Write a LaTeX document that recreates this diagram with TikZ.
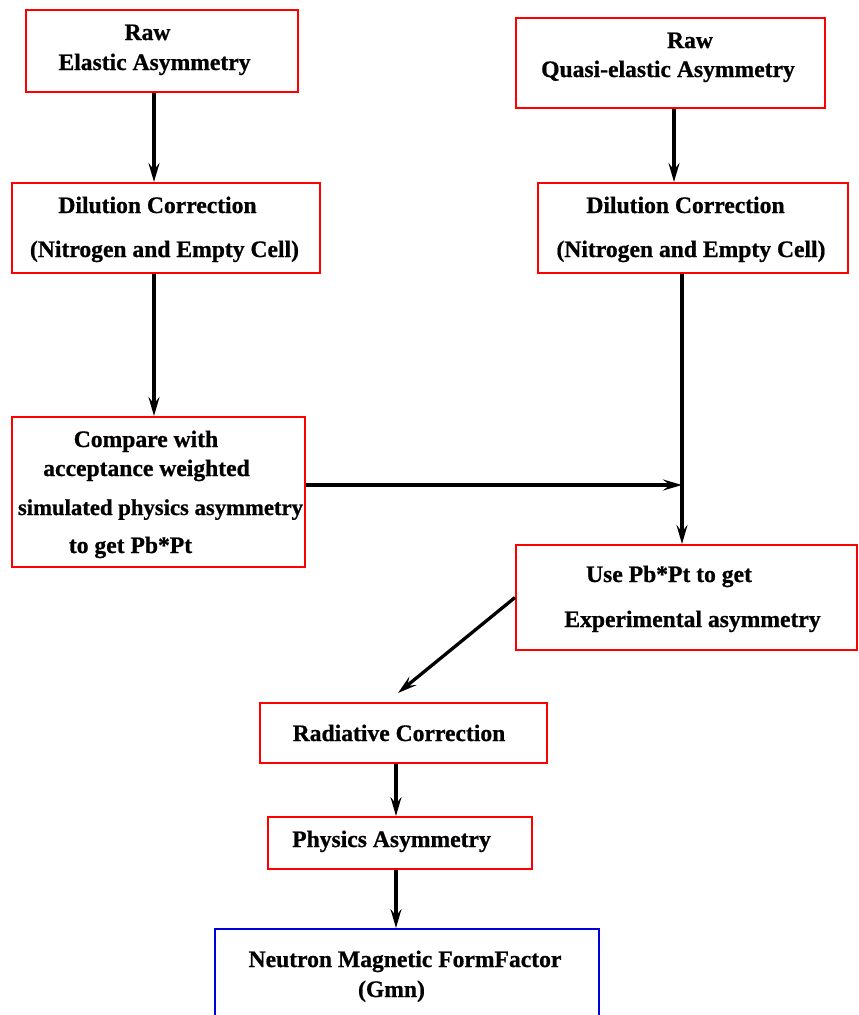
\documentclass[tikz,border=0pt]{standalone}
\usepackage{fontspec}
\setmainfont[BoldFeatures={FakeBold=0.8}]{Liberation Serif}
\usetikzlibrary{arrows.meta}
\tikzset{
  redbox/.style={draw=red, line width=2pt, inner sep=0pt},
  bluebox/.style={draw=blue!85!black, line width=2pt, inner sep=0pt},
  lbl/.style={anchor=base, inner sep=0pt, font=\fontsize{23.6}{27}\selectfont\bfseries},
  arr/.style={line width=3.3pt, -{Stealth[length=19pt,width=11pt,inset=7pt]}}
}
\begin{document}
\begin{tikzpicture}[x=1pt, y=-1pt]
\useasboundingbox (0,0) rectangle (859,1015);

% boxes
\node[redbox, minimum width=272pt, minimum height=82pt] (b1) at (162,51) {};
\node[redbox, minimum width=309pt, minimum height=90pt] (b2) at (670.5,62.5) {};
\node[redbox, minimum width=308pt, minimum height=90pt] (b3) at (165.5,228) {};
\node[redbox, minimum width=310pt, minimum height=90pt] (b4) at (693,228) {};
\node[redbox, minimum width=293pt, minimum height=150pt] (b5) at (158.5,492) {};
\node[redbox, minimum width=341pt, minimum height=105pt] (b6) at (686.5,597.5) {};
\node[redbox, minimum width=287pt, minimum height=60pt] (b7) at (403,733) {};
\node[redbox, minimum width=264pt, minimum height=52pt] (b8) at (400,843) {};
\node[bluebox, minimum width=384pt, minimum height=90pt] (b9) at (407,974) {};

% texts
\node[lbl] (t1a) at (147.5,40) {Raw};
\node[lbl] (t1b) at (154.5,70) {Elastic Asymmetry};
\node[lbl] (t2a) at (690,48) {Raw};
\node[lbl] (t2b) at (668,77) {Quasi-elastic Asymmetry};
\node[lbl] (t3a) at (157.5,213) {Dilution Correction};
\node[lbl] (t3b) at (164.5,257) {(Nitrogen and Empty Cell)};
\node[lbl] (t4a) at (685.5,213) {Dilution Correction};
\node[lbl] (t4b) at (691,257) {(Nitrogen and Empty Cell)};
\node[lbl] (t5a) at (146,447) {Compare with};
\node[lbl] (t5b) at (146.5,476) {acceptance weighted};
\node[lbl, font=\fontsize{22.7}{27}\selectfont\bfseries] (t5c) at (160.5,515) {simulated physics asymmetry};
\node[lbl] (t5d) at (130.5,553) {to get Pb*Pt};
\node[lbl] (t6a) at (669,582) {Use Pb*Pt to get};
\node[lbl] (t6b) at (692.5,627) {Experimental asymmetry};
\node[lbl] (t7) at (399,741) {Radiative Correction};
\node[lbl] (t8) at (391.5,847) {Physics Asymmetry};
\node[lbl] (t9a) at (405,967) {Neutron Magnetic FormFactor};
\node[lbl] (t9b) at (391.5,997) {(Gmn)};

% connectors
\coordinate (xl) at (154,0);
\coordinate (xr) at (674,0);
\coordinate (xj) at (682,0);
\coordinate (xc) at (396,0);
\coordinate (j) at (682,485);
\coordinate (r) at (398,693);

\draw[arr] (b1.south -| xl) -- (b3.north -| xl);
\draw[arr] (b2.south -| xr) -- (b4.north -| xr);
\draw[arr] (b3.south -| xl) -- (b5.north -| xl);
\draw[arr] (b4.south -| xj) -- (b6.north -| xj);
\draw[arr] (b5.east |- j) -- (j);
\draw[arr] (b6.west) -- (r);
\draw[arr] (b7.south -| xc) -- (b8.north -| xc);
\draw[arr] (b8.south -| xc) -- (b9.north -| xc);
\end{tikzpicture}
\end{document}
